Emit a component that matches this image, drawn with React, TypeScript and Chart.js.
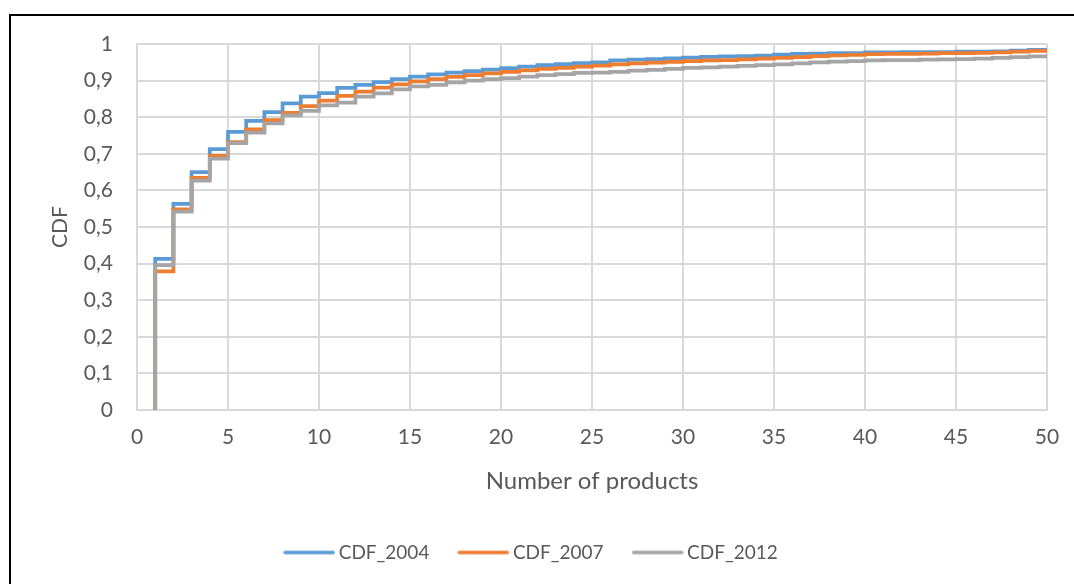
import React, { useEffect, useRef } from 'react';
import { Chart, registerables } from 'chart.js';

Chart.register(...registerables);

// ---- data ----
const products = [
  1, 2, 3, 4, 5, 6, 7, 8, 9, 10,
  11, 12, 13, 14, 15, 16, 17, 18, 19, 20,
  21, 22, 23, 24, 25, 26, 27, 28, 29, 30,
  31, 32, 33, 34, 35, 36, 37, 38, 39, 40,
  41, 42, 43, 44, 45, 46, 47, 48, 49, 50,
];

const cdf2004 = [
  0.413, 0.563, 0.650, 0.713, 0.760, 0.790, 0.814, 0.838, 0.856, 0.866,
  0.880, 0.888, 0.896, 0.904, 0.911, 0.917, 0.922, 0.926, 0.930, 0.934,
  0.938, 0.942, 0.945, 0.948, 0.950, 0.955, 0.957, 0.959, 0.961, 0.963,
  0.965, 0.966, 0.967, 0.968, 0.971, 0.973, 0.974, 0.975, 0.975, 0.977,
  0.977, 0.978, 0.978, 0.978, 0.979, 0.979, 0.980, 0.982, 0.984, 0.985,
];

const cdf2007 = [
  0.379, 0.548, 0.634, 0.694, 0.732, 0.767, 0.792, 0.812, 0.830, 0.845,
  0.858, 0.870, 0.881, 0.890, 0.898, 0.904, 0.910, 0.915, 0.920, 0.924,
  0.928, 0.932, 0.935, 0.938, 0.941, 0.944, 0.947, 0.949, 0.951, 0.953,
  0.955, 0.956, 0.958, 0.960, 0.962, 0.964, 0.967, 0.969, 0.970, 0.972,
  0.973, 0.973, 0.974, 0.975, 0.975, 0.976, 0.977, 0.979, 0.981, 0.982,
];

const cdf2012 = [
  0.396, 0.542, 0.627, 0.687, 0.729, 0.758, 0.783, 0.805, 0.817, 0.832,
  0.840, 0.856, 0.865, 0.876, 0.884, 0.888, 0.895, 0.900, 0.904, 0.907,
  0.911, 0.915, 0.918, 0.921, 0.922, 0.924, 0.927, 0.929, 0.932, 0.935,
  0.936, 0.938, 0.940, 0.942, 0.944, 0.947, 0.950, 0.952, 0.953, 0.955,
  0.956, 0.956, 0.957, 0.958, 0.959, 0.960, 0.962, 0.964, 0.966, 0.967,
];

const seriesNames = ['CDF_2004', 'CDF_2007', 'CDF_2012'];
const yTickLabels = ['0', '0,1', '0,2', '0,3', '0,4', '0,5', '0,6', '0,7', '0,8', '0,9', '1'];
const xTitle = 'Number of products';
const yTitle = 'CDF';

// ---- styles ----
const COLORS = ['#5B9BD5', '#ED7D31', '#A5A5A5'];
const TEXT = '#595959';
const GRID = '#d9d9d9';
const FONT = 'Lato';

function makeLineImage(color: string): HTMLCanvasElement {
  const c = document.createElement('canvas');
  c.width = 52;
  c.height = 6;
  const g = c.getContext('2d')!;
  g.strokeStyle = color;
  g.lineWidth = 3.5;
  g.lineCap = 'round';
  g.beginPath();
  g.moveTo(2, 3);
  g.lineTo(50, 3);
  g.stroke();
  return c;
}

function buildSeries(values: number[]) {
  return [{ x: products[0], y: 0 }, ...products.map((x, i) => ({ x, y: values[i] }))];
}

export default function App() {
  const ref = useRef<HTMLCanvasElement | null>(null);

  useEffect(() => {
    if (!ref.current) return;
    const lineImgs = COLORS.map(makeLineImage);
    const all = [cdf2004, cdf2007, cdf2012];
    const chart = new Chart(ref.current, {
      type: 'line',
      data: {
        datasets: all.map((vals, i) => ({
          label: seriesNames[i],
          data: buildSeries(vals),
          borderColor: COLORS[i],
          backgroundColor: COLORS[i],
          borderWidth: 3.75,
          pointRadius: 0,
          pointHoverRadius: 0,
          stepped: 'before' as const,
          fill: false,
          order: 3 - i,
        })),
      },
      options: {
        animation: false,
        responsive: false,
        maintainAspectRatio: false,
        layout: { padding: { left: 20, right: 27, top: 44, bottom: 12 } },
        plugins: {
          tooltip: { enabled: false },
          legend: {
            position: 'bottom',
            labels: {
              usePointStyle: true,
              pointStyleWidth: 40,
              padding: 34,
              color: TEXT,
              font: { family: FONT, size: 19 },
              generateLabels: (ch: any) => {
                const items = (Chart.defaults.plugins.legend.labels as any).generateLabels(ch);
                return items
                  .map((it: any) => ({ ...it, pointStyle: lineImgs[it.datasetIndex] }))
                  .sort((a: any, b: any) => a.datasetIndex - b.datasetIndex);
              },
            },
          },
        },
        scales: {
          x: {
            type: 'linear',
            min: 0,
            max: 50,
            afterFit: (s: any) => { s.height = 99; },
            ticks: {
              stepSize: 5,
              color: TEXT,
              padding: 14.5,
              font: { family: FONT, size: 21 },
              maxRotation: 0,
            },
            grid: { color: GRID, lineWidth: 2, drawTicks: false },
            border: { color: GRID, width: 2 },
            title: {
              display: true,
              text: xTitle,
              color: TEXT,
              font: { family: FONT, size: 24 },
              padding: { top: 0, bottom: 13.5 },
            },
          },
          y: {
            type: 'linear',
            min: 0,
            max: 1,
            afterFit: (s: any) => { s.width = 117; },
            ticks: {
              stepSize: 0.1,
              color: TEXT,
              padding: 24,
              font: { family: FONT, size: 21 },
              callback: (_v: any, idx: number) => yTickLabels[idx],
            },
            grid: { color: GRID, lineWidth: 2, drawTicks: false },
            border: { color: GRID, width: 2 },
            title: {
              display: true,
              text: yTitle,
              color: TEXT,
              font: { family: FONT, size: 21 },
              padding: { top: 27.4, bottom: 0 },
            },
          },
        },
      } as any,
    });
    return () => chart.destroy();
  }, []);

  return (
    <div style={{ position: 'absolute', left: 0, top: 0, width: 1074, height: 584, overflow: 'hidden', background: '#fff' }}>
      <div
        style={{
          position: 'absolute',
          left: 9,
          top: 14,
          width: 1065,
          height: 570,
          borderTop: '2px solid #000',
          borderLeft: '2px solid #000',
          boxSizing: 'border-box',
        }}
      />
      <canvas ref={ref} width={1074} height={584} style={{ position: 'absolute', left: 0, top: 0, display: 'block' }} />
    </div>
  );
}
